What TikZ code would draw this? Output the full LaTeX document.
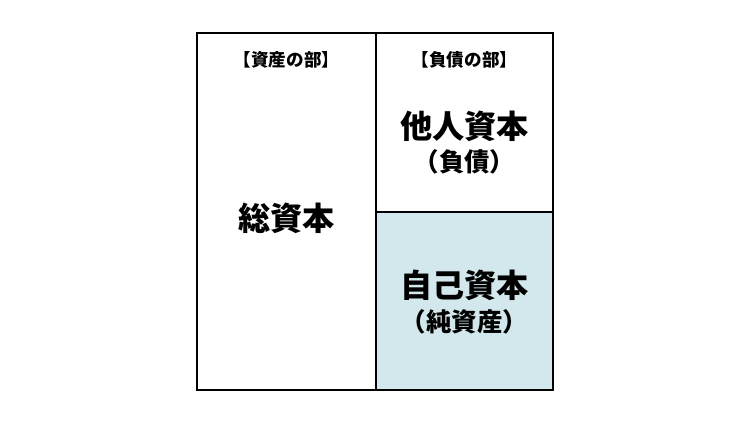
\documentclass[tikz,border=0pt]{standalone}
\usepackage{fontspec}
\newfontfamily\cjk{Noto Sans CJK JP}
\usetikzlibrary{positioning}
\definecolor{equityblue}{RGB}{211,232,236}

\begin{document}
\begin{tikzpicture}[x=0.02cm,y=-0.02cm,
    partlabel/.style={font=\cjk\bfseries\fontsize{10}{12}\selectfont},
    mainlabel/.style={font=\cjk\bfseries\fontsize{18.3}{22}\selectfont},
    sublabel/.style={font=\cjk\bfseries\fontsize{14.5}{17}\selectfont}]
\useasboundingbox (0,0) rectangle (750,420);

% Balance sheet boxes
\fill[equityblue] (376,212) rectangle (553,390);
\draw[line width=1.6pt] (197,33) rectangle (553,390);
\draw[line width=1.6pt] (376,33) -- (376,390);
\draw[line width=1.6pt] (376,212) -- (553,212);

% Asset side
\node[partlabel] (assetpart) at (286.5,60) {【資産の部】};
\node[mainlabel] (total) at (286.5,218) {総資本};

% Liabilities side
\node[partlabel] (liabpart) at (464.5,60) {【負債の部】};
\node[mainlabel] (debt) at (464.5,126) {他人資本};
\node[sublabel] (debtsub) at (464.5,162) {（負債）};

% Equity
\node[mainlabel] (equity) at (464.5,285) {自己資本};
\node[sublabel] (equitysub) at (464.5,322) {（純資産）};
\end{tikzpicture}
\end{document}
